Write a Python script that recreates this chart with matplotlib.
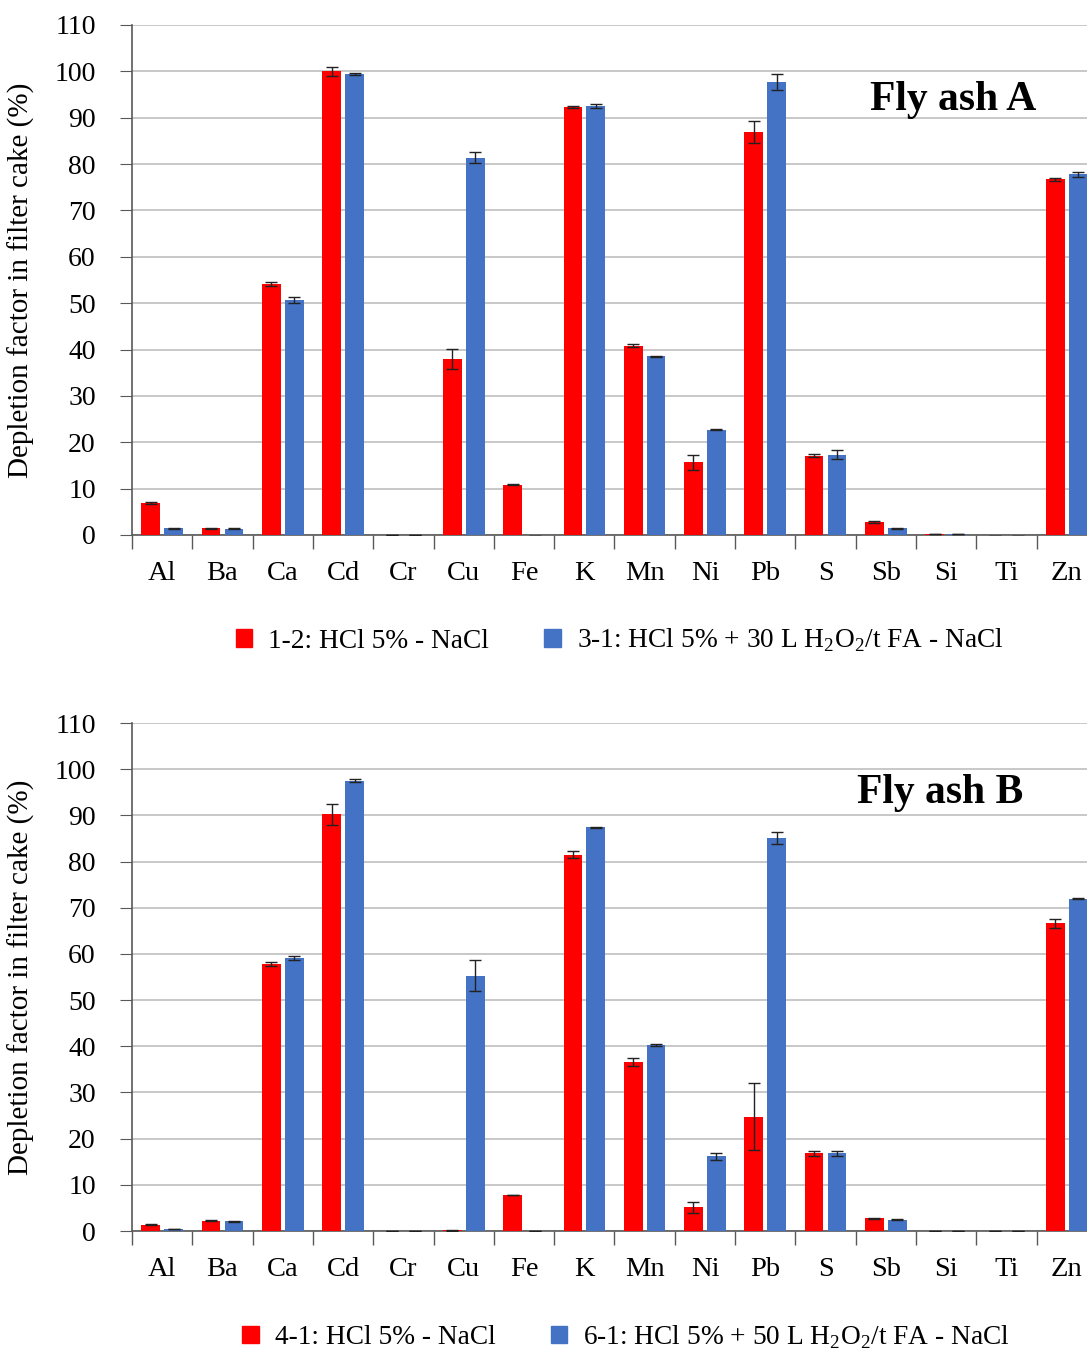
import numpy as np
import matplotlib
matplotlib.use("Agg")
import matplotlib.pyplot as plt
from matplotlib.patches import Patch

plt.rcParams['font.family'] = ['Liberation Serif', 'DejaVu Serif']
plt.rcParams['mathtext.fontset'] = 'custom'
plt.rcParams['mathtext.rm'] = 'Liberation Serif'

elements = ["Al", "Ba", "Ca", "Cd", "Cr", "Cu", "Fe", "K", "Mn", "Ni",
            "Pb", "S", "Sb", "Si", "Ti", "Zn"]

# Fly ash A
a_red = [6.9, 1.5, 54.2, 100.0, 0.0, 37.9, 10.8, 92.3, 40.8, 15.7,
         87.0, 17.1, 2.85, 0.2, -0.2, 76.7]
a_red_err = [0.2, 0.1, 0.4, 1.0, 0.0, 2.2, 0.1, 0.2, 0.3, 1.6,
             2.4, 0.3, 0.2, 0.05, 0.05, 0.3]
a_blue = [1.5, 1.4, 50.7, 99.5, 0.0, 81.4, -0.2, 92.5, 38.5, 22.7,
          97.7, 17.3, 1.5, 0.2, -0.2, 77.8]
a_blue_err = [0.1, 0.1, 0.6, 0.2, 0.0, 1.2, 0.0, 0.4, 0.1, 0.1,
              1.75, 1.0, 0.1, 0.05, 0.05, 0.6]

# Fly ash B
b_red = [1.4, 2.2, 57.8, 90.2, 0.1, 0.2, 7.8, 81.5, 36.6, 5.1,
         24.8, 16.8, 2.8, 0.1, 0.0, 66.6]
b_red_err = [0.2, 0.1, 0.4, 2.2, 0.0, 0.1, 0.1, 0.7, 0.8, 1.2,
             7.2, 0.6, 0.1, 0.0, 0.0, 0.9]
b_blue = [0.4, 2.1, 59.1, 97.5, 0.1, 55.3, 0.0, 87.4, 40.3, 16.2,
          85.2, 16.8, 2.4, 0.1, 0.0, 72.0]
b_blue_err = [0.0, 0.1, 0.4, 0.3, 0.0, 3.4, 0.0, 0.1, 0.2, 0.8,
              1.3, 0.6, 0.1, 0.0, 0.0, 0.2]

red = "#FF0000"
blue = "#4472C4"

fig = plt.figure(figsize=(10.87, 13.51), dpi=100)
ax1 = fig.add_axes([0.1214, 0.604, 0.8878, 0.3775])
ax2 = fig.add_axes([0.1214, 0.0888, 0.8878, 0.376])

x = np.arange(len(elements))
w = 0.31
off = 0.19


def draw(ax, r, re, b, be, title, tx, ty):
    ax.bar(x - off, r, w, color=red, zorder=3)
    ax.bar(x + off, b, w, color=blue, zorder=3)
    ax.errorbar(x - off, r, yerr=re, fmt='none', ecolor='#222222',
                elinewidth=1, capsize=4, capthick=1, zorder=4)
    ax.errorbar(x + off, b, yerr=be, fmt='none', ecolor='#222222',
                elinewidth=1, capsize=4, capthick=1, zorder=4)
    ax.set_xlim(-0.5, len(elements) - 0.5)
    ax.set_ylim(0, 110)
    ax.set_yticks(range(0, 111, 10))
    ax.yaxis.grid(True, color='#BFBFBF', linewidth=1.2, zorder=0)
    ax.set_axisbelow(True)
    ax.set_xticks(np.arange(-0.5, len(elements), 1))
    ax.set_xticklabels([])
    ax.set_xticks(x, minor=True)
    ax.set_xticklabels(elements, minor=True, fontsize=20.5)
    ax.tick_params(axis='x', which='major', direction='out', length=10,
                   color='#595959', width=1)
    ax.tick_params(axis='x', which='minor', length=0, pad=19)
    ax.tick_params(axis='y', direction='out', length=9, color='#595959',
                   labelsize=20, pad=17)
    for s in ['top', 'right']:
        ax.spines[s].set_visible(False)
    for s in ['left', 'bottom']:
        ax.spines[s].set_color('#595959')
        ax.spines[s].set_linewidth(1.2)
    ax.set_ylabel("Depletion factor in filter cake (%)", fontsize=21)
    ax.yaxis.set_label_coords(-0.10, 0.5)
    ax.text(tx, ty, title, transform=ax.transAxes, fontsize=30,
            fontweight='bold', ha='center', va='center')


draw(ax1, a_red, a_red_err, a_blue, a_blue_err, "Fly ash A", 0.851, 0.853)
draw(ax2, b_red, b_red_err, b_blue, b_blue_err, "Fly ash B", 0.837, 0.862)


def leg(y, xc, l1, l2):
    h = [Patch(color=red), Patch(color=blue)]
    fig.legend(h, [l1, l2], loc='center', bbox_to_anchor=(xc, y), ncol=2,
               frameon=False, fontsize=19.7, handlelength=0.6,
               handleheight=0.6, handletextpad=0.6, columnspacing=2.0)


leg(0.526, 0.570, "1-2: HCl 5% - NaCl",
    r"3-1: HCl 5% + 30 L H$_2$O$_2$/t FA - NaCl")
leg(0.0104, 0.576, "4-1: HCl 5% - NaCl",
    r"6-1: HCl 5% + 50 L H$_2$O$_2$/t FA - NaCl")

fig.savefig("out.png", dpi=100)
